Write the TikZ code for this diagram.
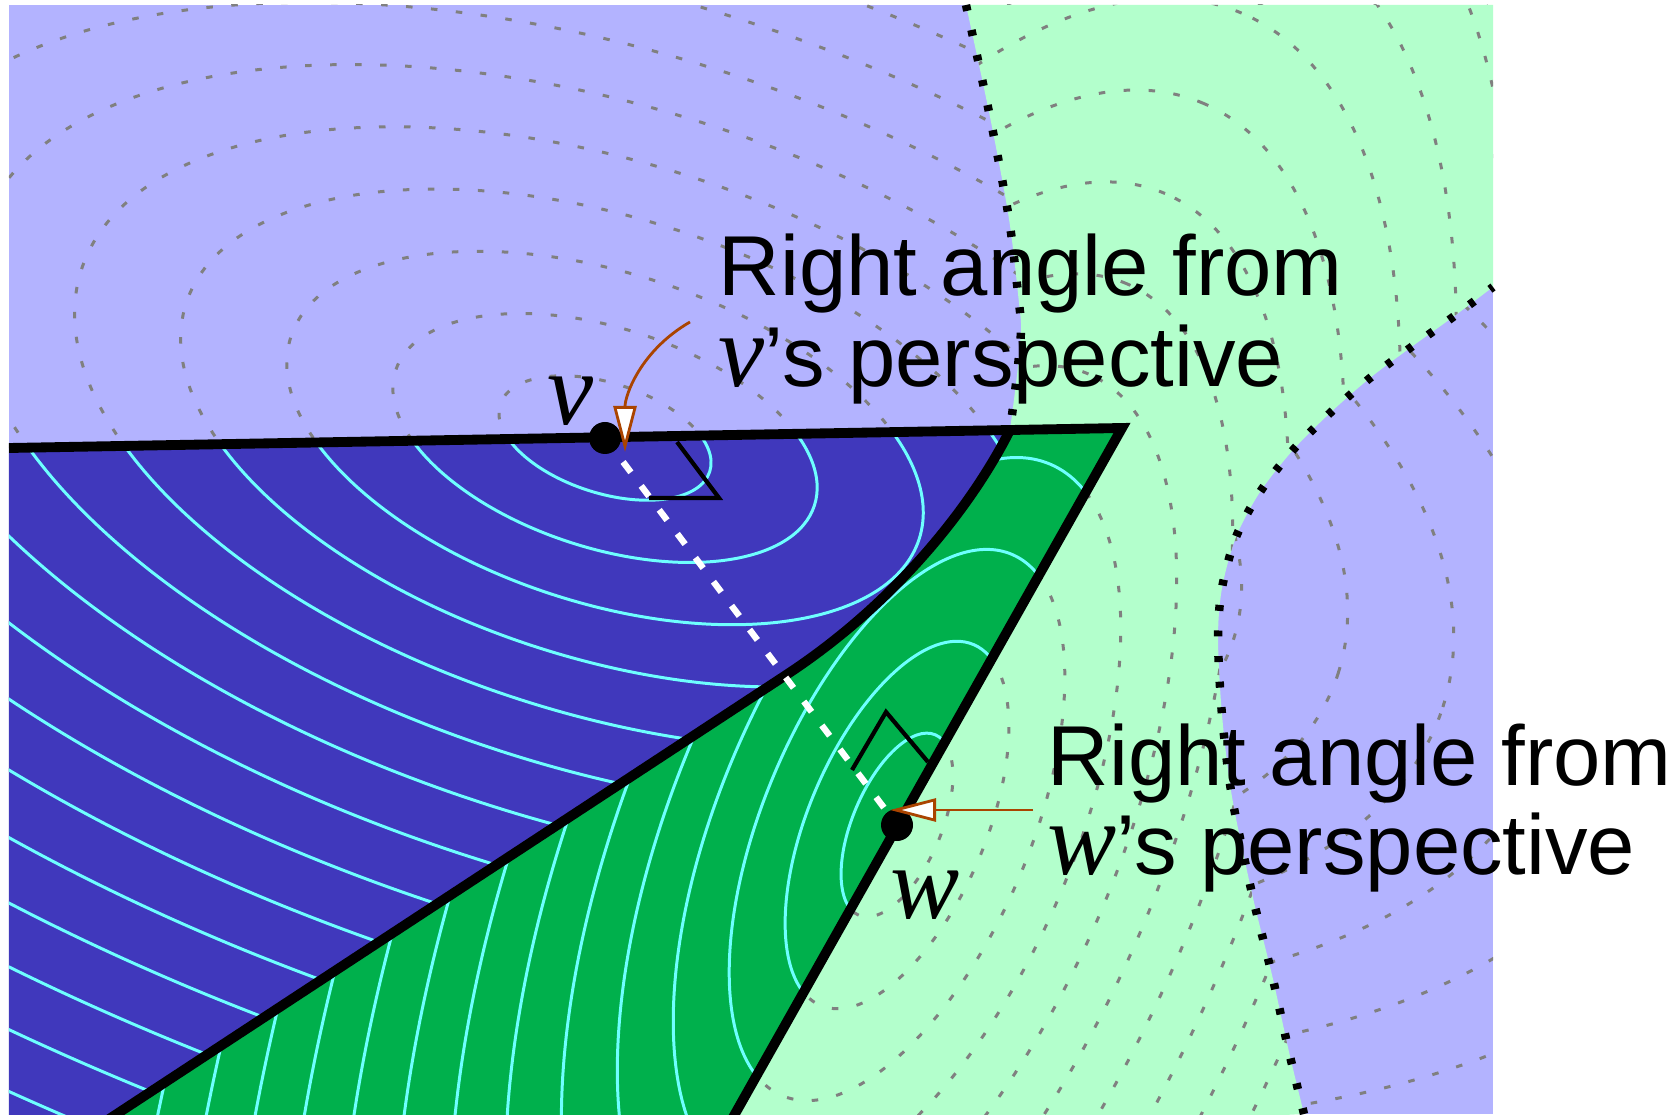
\documentclass[tikz,border=0pt]{standalone}
\usepackage{fontspec}
\setmainfont{Liberation Sans}
\newfontfamily\siteface{Liberation Serif}
\usepackage{xcolor}
\usepackage{tikz}
\usetikzlibrary{arrows.meta,calc}

\definecolor{paleblue}{RGB}{179,179,255}
\definecolor{palegreen}{RGB}{179,255,204}
\definecolor{cellblue}{RGB}{64,56,188}
\definecolor{cellgreen}{RGB}{0,176,76}
\definecolor{ringcyan}{RGB}{110,255,255}
\definecolor{notebrown}{RGB}{170,68,0}

\newcommand{\sitename}[1]{{\siteface\itshape\fontsize{29.5}{31}\selectfont #1}}

\begin{document}
\begin{tikzpicture}[
  farring/.style={draw=gray, line width=0.85pt, dash pattern=on 0.065cm off 0.185cm},
  nearring/.style={draw=ringcyan, line width=0.85pt},
  cellwall/.style={line width=2.4pt, dash pattern=on 0.06cm off 0.196cm},
  meshline/.style={line width=2.8pt, line join=miter},
  anglemark/.style={line width=1.2pt, line join=miter},
  pointer/.style={draw=notebrown, line width=0.8pt, -{Triangle[length=4.6mm, width=2.3mm, fill=white]}},
  note/.style={font=\fontsize{24.2}{26}\selectfont, inner sep=0pt, anchor=base west},
  sitelabel/.style={inner sep=0pt, anchor=base}
]
\useasboundingbox (0,0) rectangle (16.78,11.14);
\fill[white] (0,0) rectangle (16.78,11.14);

% mesh points
\coordinate (v) at (6.05,6.76);
\coordinate (w) at (8.97,2.89);
\coordinate (TL) at (0.09,6.66);
\coordinate (T) at (11.22,6.86);
\coordinate (B1) at (0.71,-0.30);
\coordinate (B2) at (7.18,-0.30);
\coordinate (C1) at (7.83,4.37);
\coordinate (C2) at (10.10,6.84);

% v's cell outside the triangle
\fill[paleblue] (0.09,0) rectangle (14.93,11.09);
\begin{scope}
  \clip (0.09,0) rectangle (14.93,11.09);
  \begin{scope}[shift={(v)}, rotate=-17.8]
    \foreach \n [evaluate=\n as \rx using 1.10*\n, evaluate=\n as \ry using 0.55*\n] in {1,...,16}
      \draw[farring] (0,0) ellipse [x radius=\rx, y radius=\ry];
  \end{scope}
\end{scope}

% w's cell outside the triangle
\begin{scope}
  \path[fill=palegreen] plot[smooth] coordinates {(9.66,11.09) (9.90,9.97) (10.09,8.95) (10.19,8.11) (10.21,7.84) (10.17,7.39) (10.10,6.84)}
    -- (T) -- (B2)
    -- plot[smooth] coordinates {(13.04,0) (12.89,0.62) (12.72,1.39) (12.53,2.16) (12.32,3.17) (12.22,3.99) (12.18,4.76) (12.22,5.26) (12.36,5.77) (12.60,6.22) (12.93,6.64) (13.30,7.01) (13.70,7.36) (14.10,7.66) (14.53,7.97) (14.93,8.27)}
    -- (14.93,11.09) -- cycle;
  \clip plot[smooth] coordinates {(9.66,11.09) (9.90,9.97) (10.09,8.95) (10.19,8.11) (10.21,7.84) (10.17,7.39) (10.10,6.84)}
    -- (T) -- (B2)
    -- plot[smooth] coordinates {(13.04,0) (12.89,0.62) (12.72,1.39) (12.53,2.16) (12.32,3.17) (12.22,3.99) (12.18,4.76) (12.22,5.26) (12.36,5.77) (12.60,6.22) (12.93,6.64) (13.30,7.01) (13.70,7.36) (14.10,7.66) (14.53,7.97) (14.93,8.27)}
    -- (14.93,11.09) -- cycle;
  \begin{scope}[shift={(w)}, rotate=67]
    \foreach \n [evaluate=\n as \rx using 0.98*\n, evaluate=\n as \ry using 0.443*\n] in {1,...,14}
      \draw[farring] (0,0) ellipse [x radius=\rx, y radius=\ry];
  \end{scope}
\end{scope}

% triangle, v's part
\begin{scope}
  \path[fill=cellblue] (TL) -- (C2) .. controls (9.75,6.14) and (9.00,5.13) .. (C1) -- (B1) -- (0.09,-0.30) -- cycle;
  \clip (TL) -- (C2) .. controls (9.75,6.14) and (9.00,5.13) .. (C1) -- (B1) -- (0.09,-0.30) -- cycle;
  \begin{scope}[shift={(v)}, rotate=-17.8]
    \foreach \n [evaluate=\n as \rx using 1.10*\n, evaluate=\n as \ry using 0.55*\n] in {1,...,16}
      \draw[nearring] (0,0) ellipse [x radius=\rx, y radius=\ry];
  \end{scope}
\end{scope}

% triangle, w's part
\begin{scope}
  \path[fill=cellgreen] (C2) -- (T) -- (B2) -- (B1) -- (C1) .. controls (9.00,5.13) and (9.75,6.14) .. (C2) -- cycle;
  \clip (C2) -- (T) -- (B2) -- (B1) -- (C1) .. controls (9.00,5.13) and (9.75,6.14) .. (C2) -- cycle;
  \begin{scope}[shift={(w)}, rotate=67]
    \foreach \n [evaluate=\n as \rx using 0.98*\n, evaluate=\n as \ry using 0.443*\n] in {1,...,16}
      \draw[nearring] (0,0) ellipse [x radius=\rx, y radius=\ry];
  \end{scope}
\end{scope}

% edges and cell walls
\draw[meshline] (TL) -- (T) -- (B2);
\draw[meshline] (B1) -- (C1) .. controls (9.00,5.13) and (9.75,6.14) .. (C2);
\draw[cellwall] plot[smooth] coordinates {(9.66,11.09) (9.90,9.97) (10.09,8.95) (10.19,8.11) (10.21,7.84) (10.17,7.39) (10.10,6.84)};
\draw[cellwall] plot[smooth] coordinates {(13.04,0) (12.89,0.62) (12.72,1.39) (12.53,2.16) (12.32,3.17) (12.22,3.99) (12.18,4.76) (12.22,5.26) (12.36,5.77) (12.60,6.22) (12.93,6.64) (13.30,7.01) (13.70,7.36) (14.10,7.66) (14.53,7.97) (14.93,8.27)};

% v to w
\draw[white, line width=1.8pt, dash pattern=on 0.13cm off 0.17cm] (v) -- (w);
\draw[anglemark] (6.77,6.72) -- (7.19,6.16) -- (6.49,6.16);
\draw[anglemark] (8.52,3.44) -- (8.86,4.02) -- (9.28,3.52);
\fill (v) circle (0.16);
\fill (w) circle (0.16);
\node[sitelabel] (vname) at (5.70,6.89) {\sitename{v}};
\node[sitelabel] (wname) at (9.25,1.96) {\sitename{w}};

% notes
\coordinate (vtail) at (6.90,7.92);
\coordinate (vtip) at (6.25,6.62);
\coordinate (wtail) at (10.33,3.04);
\coordinate (wtip) at (8.90,3.04);
\draw[pointer] (vtail) to[out=210, in=90] (vtip);
\draw[pointer] (wtail) -- (wtip);
\node[note] (vnote) at (7.18,8.18) {Right angle from};
\node[note] (vnote2) at (7.18,7.27) {\sitename{v}'s perspective};
\node[note] (wnote) at (10.47,3.29) {Right angle from};
\node[note] (wnote2) at (10.47,2.40) {\sitename{w}'s perspective};
\end{tikzpicture}
\end{document}
